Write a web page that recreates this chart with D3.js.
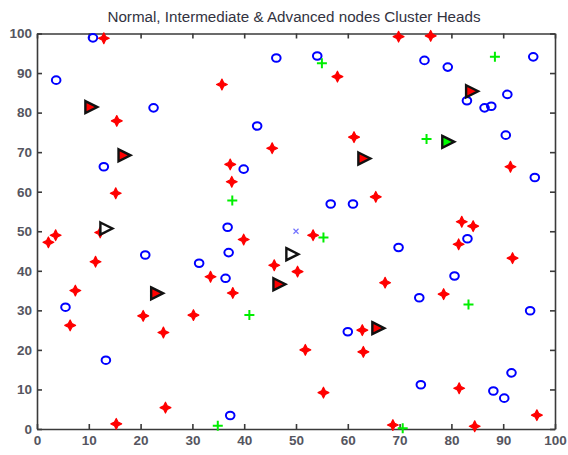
<!DOCTYPE html>
<html>
<head>
<meta charset="utf-8">
<script src="https://cdn.jsdelivr.net/npm/d3@7"></script>
<style>
  body { margin: 0; background: #fff; }
  svg { display: block; }
</style>
</head>
<body>
<div id="chart"></div>
<script>
// NODE POSITIONS
const normalNodes = [
  [10.8, 98.9], [3.7, 88.2], [22.5, 81.2], [12.9, 66.3], [46.2, 93.8], [42.5, 76.6],
  [39.9, 65.7], [36.8, 51.0], [20.9, 44.0], [31.3, 41.9], [37.0, 44.6], [36.4, 38.1],
  [5.5, 30.8], [13.3, 17.4], [37.3, 3.4], [54.1, 94.3], [74.8, 93.2], [79.3, 91.5],
  [95.8, 94.1], [83.0, 83.0], [86.4, 81.2], [87.7, 81.6], [90.8, 84.6], [90.5, 74.3],
  [96.1, 63.6], [56.7, 56.9], [61.0, 56.9], [69.8, 45.9], [83.1, 48.1], [80.6, 38.7],
  [73.8, 33.2], [95.2, 29.9], [60.0, 24.6], [74.1, 11.2], [91.6, 14.2], [88.1, 9.6],
  [90.2, 7.8]
];

const intermediateNodes = [
  [12.9, 98.8], [15.4, 77.9], [15.2, 59.6], [35.7, 87.1], [45.4, 71.0], [37.3, 66.9],
  [37.6, 62.5], [2.2, 47.2], [3.6, 49.0], [12.2, 49.7], [11.3, 42.3], [7.4, 35.0],
  [6.4, 26.2], [20.5, 28.6], [24.4, 24.4], [30.2, 28.8], [33.5, 38.5], [37.8, 34.4],
  [39.9, 47.9], [45.8, 41.4], [50.3, 39.8], [24.8, 5.4], [15.3, 1.3], [69.8, 99.2],
  [76.0, 99.4], [58.0, 89.1], [61.2, 73.8], [91.4, 66.3], [65.4, 58.7], [82.0, 52.4],
  [84.2, 51.3], [53.3, 49.0], [81.4, 46.7], [91.8, 43.2], [67.2, 37.0], [78.5, 34.1],
  [62.8, 25.0], [51.8, 20.0], [63.0, 19.5], [55.3, 9.2], [81.5, 10.3], [96.5, 3.5],
  [68.7, 1.0], [84.5, 0.7]
];

const advancedNodes = [
  [37.7, 57.8], [55.0, 92.5], [88.4, 94.1], [75.2, 73.3], [55.3, 48.4], [41.0, 28.8],
  [34.9, 0.8], [83.3, 31.5], [70.6, 0.2]
];

// CLUSTER HEADS: x, y, node type
const clusterHeads = [
  [10.4, 81.4, "intermediate"], [16.8, 69.2, "intermediate"], [23.1, 34.3, "intermediate"],
  [46.7, 36.6, "intermediate"], [63.1, 68.4, "intermediate"], [83.9, 85.4, "intermediate"],
  [65.8, 25.5, "intermediate"], [79.3, 72.6, "advanced"], [13.3, 50.7, "normal"],
  [49.2, 44.2, "normal"]
];

const sink = [[50, 50]];

const xTicks = [0, 10, 20, 30, 40, 50, 60, 70, 80, 90, 100];
const yTicks = [0, 10, 20, 30, 40, 50, 60, 70, 80, 90, 100];

const chTypeFill = { normal: "#ffffff", intermediate: "#ff0000", advanced: "#00ff00" };

const w = 568;
const h = 455;
const margin = { left: 37, right: 13, top: 33.5, bottom: 26 };

const xScale = d3.scaleLinear()
  .domain([0, 100])
  .range([margin.left, w - margin.right]);

const yScale = d3.scaleLinear()
  .domain([0, 100])
  .range([h - margin.bottom, margin.top]);

const svg = d3.select("#chart")
  .append("svg")
  .attr("width", w)
  .attr("height", h);

// TITLE
svg.append("text")
  .attr("x", 294)
  .attr("y", 22)
  .attr("text-anchor", "middle")
  .style("font-family", "Arial, 'Liberation Sans', sans-serif")
  .style("font-size", "15.2px")
  .style("fill", "#33333f")
  .text("Normal, Intermediate & Advanced nodes Cluster Heads");

// AXES (TICKS POINT INWARD, MATLAB STYLE BOX)
const axisClr = "#3a3a3a";

const xAxis = d3.axisBottom(xScale).tickValues(xTicks).tickSizeInner(-5).tickSizeOuter(0).tickPadding(6);
const yAxis = d3.axisLeft(yScale).tickValues(yTicks).tickSizeInner(-5).tickSizeOuter(0).tickPadding(5);
const xAxisTop = d3.axisTop(xScale).tickValues(xTicks).tickSizeInner(-5).tickSizeOuter(0).tickFormat("");
const yAxisRight = d3.axisRight(yScale).tickValues(yTicks).tickSizeInner(-5).tickSizeOuter(0).tickFormat("");

svg.append("g")
  .attr("class", "axis")
  .attr("transform", "translate(0," + yScale(0) + ")")
  .call(xAxis);

svg.append("g")
  .attr("class", "axis")
  .attr("transform", "translate(" + xScale(0) + ",0)")
  .call(yAxis);

svg.append("g")
  .attr("class", "axis")
  .attr("transform", "translate(0," + yScale(100) + ")")
  .call(xAxisTop);

svg.append("g")
  .attr("class", "axis")
  .attr("transform", "translate(" + xScale(100) + ",0)")
  .call(yAxisRight);

svg.selectAll(".axis path, .axis line")
  .attr("stroke", axisClr)
  .attr("stroke-width", 1.6);

svg.selectAll(".axis text")
  .style("font-family", "Arial, 'Liberation Sans', sans-serif")
  .style("font-size", "13.5px")
  .style("font-weight", "bold")
  .style("fill", "#555560");

// MARKERS
const starPath = (function() {
  const R = 5.4, r = 2.5;
  let pts = [];
  for (let i = 0; i < 8; i++) {
    const a = i * Math.PI / 4 - Math.PI / 2;
    const rad = i % 2 === 0 ? R : r;
    pts.push([rad * Math.cos(a), rad * Math.sin(a)]);
  }
  return "M" + pts.map((p) => p[0].toFixed(2) + "," + p[1].toFixed(2)).join("L") + "Z";
})();

// normal nodes - blue circles
svg.selectAll(".normal")
  .data(normalNodes)
  .enter()
  .append("ellipse")
  .attr("class", "normal")
  .attr("cx", (d) => xScale(d[0]))
  .attr("cy", (d) => yScale(d[1]))
  .attr("rx", 4.3)
  .attr("ry", 3.8)
  .attr("fill", "none")
  .attr("stroke", "#0000ff")
  .attr("stroke-width", 2);

// intermediate nodes - red stars
svg.selectAll(".intermediate")
  .data(intermediateNodes)
  .enter()
  .append("path")
  .attr("class", "intermediate")
  .attr("d", starPath)
  .attr("transform", (d) => "translate(" + xScale(d[0]) + "," + yScale(d[1]) + ")")
  .attr("fill", "#ff0000")
  .attr("stroke", "#ff0000")
  .attr("stroke-width", 1.2)
  .attr("stroke-linejoin", "round");

// advanced nodes - green plus
svg.selectAll(".advanced")
  .data(advancedNodes)
  .enter()
  .append("path")
  .attr("class", "advanced")
  .attr("d", "M-5,0H5M0,-5V5")
  .attr("transform", (d) => "translate(" + xScale(d[0]) + "," + yScale(d[1]) + ")")
  .attr("fill", "none")
  .attr("stroke", "#00ee00")
  .attr("stroke-width", 2);

// sink - small blue x
svg.selectAll(".sink")
  .data(sink)
  .enter()
  .append("path")
  .attr("class", "sink")
  .attr("d", "M-2.5,-2.5L2.5,2.5M-2.5,2.5L2.5,-2.5")
  .attr("transform", (d) => "translate(" + xScale(d[0]) + "," + yScale(d[1]) + ")")
  .attr("stroke", "#6f6fff")
  .attr("stroke-width", 1.1);

// cluster heads - right pointing triangles
svg.selectAll(".ch")
  .data(clusterHeads)
  .enter()
  .append("path")
  .attr("class", "ch")
  .attr("d", "M-5.5,-6L6.5,0L-5.5,6Z")
  .attr("transform", (d) => "translate(" + xScale(d[0]) + "," + yScale(d[1]) + ")")
  .attr("fill", (d) => chTypeFill[d[2]])
  .attr("stroke", "#111")
  .attr("stroke-width", 2.4)
  .attr("stroke-linejoin", "miter");
</script>
</body>
</html>
